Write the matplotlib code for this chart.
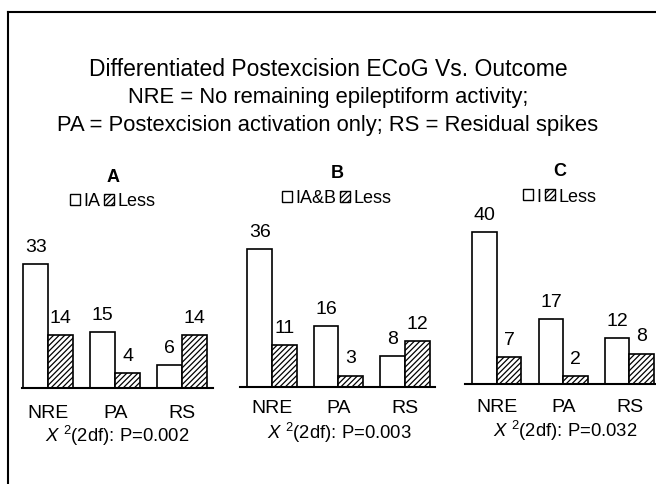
import numpy as np
import matplotlib.pyplot as plt
from matplotlib.patches import Patch
from matplotlib.lines import Line2D

plt.rcParams['font.family'] = ['Liberation Sans', 'DejaVu Sans']
plt.rcParams['mathtext.fontset'] = 'custom'
plt.rcParams['mathtext.rm'] = 'Liberation Sans'
plt.rcParams['mathtext.it'] = 'Liberation Sans:italic'
plt.rcParams['hatch.linewidth'] = 0.9

categories = ['NRE', 'PA', 'RS']
panels = ['A', 'B', 'C']
first_labels = ['IA', 'IA&B', 'I']
first_values = [[33, 15, 6], [36, 16, 8], [40, 17, 12]]
less_values = [[14, 4, 14], [11, 3, 12], [7, 2, 8]]
p_values = ['0.002', '0.003', '0.032']

W, H = 656, 485
fig = plt.figure(figsize=(W / 100, H / 100), dpi=100)


def fx(x):
    return x / W


def fy(y):
    return 1 - y / H


# panel geometry in pixels: axes left, right, baseline, px per unit, xlim
geom = [
    dict(left=22, right=213, base=389, scale=3.76, xlim=(-0.39, 2.46),
         title_y=177, leg_y=202, cat_y=414, chi_y=436, cx=113, chi_x=117),
    dict(left=240, right=435, base=388, scale=3.83, xlim=(-0.48, 2.45),
         title_y=173, leg_y=199, cat_y=409, chi_y=433, cx=337, chi_x=339),
    dict(left=465, right=656, base=385, scale=3.80, xlim=(-0.48, 2.4),
         title_y=171, leg_y=197, cat_y=408, chi_y=431, cx=560, chi_x=565),
]

ymax = 42
bw = 0.37
x = np.arange(len(categories))

for i, g in enumerate(geom):
    h_px = ymax * g['scale']
    ax = fig.add_axes([fx(g['left']), fy(g['base']), fx(g['right'] - g['left']), h_px / H])
    ax.bar(x - bw, first_values[i], bw, align='edge', color='white', edgecolor='black', linewidth=1.2)
    ax.bar(x, less_values[i], bw, align='edge', color='white', edgecolor='black', linewidth=1.2, hatch='//////')
    for xi, v in zip(x, first_values[i]):
        ax.text(xi - bw / 2, v + 2.4, str(v), ha='center', va='bottom', fontsize=14)
    for xi, v in zip(x, less_values[i]):
        ax.text(xi + bw / 2, v + 2.4, str(v), ha='center', va='bottom', fontsize=14)
    ax.set_xlim(*g['xlim'])
    ax.set_ylim(0, ymax)
    for s in ['top', 'left', 'right']:
        ax.spines[s].set_visible(False)
    ax.spines['bottom'].set_linewidth(1.5)
    ax.set_xticks([])
    ax.set_yticks([])
    ax.patch.set_alpha(0)

    for xi, c in zip(x, categories):
        px = g['left'] + (xi - g['xlim'][0]) / (g['xlim'][1] - g['xlim'][0]) * (g['right'] - g['left'])
        fig.text(fx(px), fy(g['cat_y']), c, ha='center', va='center', fontsize=14)

    fig.text(fx(g['cx']), fy(g['title_y']), panels[i], ha='center', va='center',
             fontsize=13, fontweight='bold')
    handles = [Patch(facecolor='white', edgecolor='black', linewidth=1.0),
               Patch(facecolor='white', edgecolor='black', linewidth=1.0, hatch='//////')]
    fig.legend(handles, [first_labels[i], 'Less'], loc='center',
               bbox_to_anchor=(fx(g['cx']), fy(g['leg_y'])), ncol=2, frameon=False,
               fontsize=13, handlelength=0.55, handleheight=0.55, handletextpad=0.2,
               columnspacing=0.2, borderpad=0)
    fig.text(fx(g['chi_x']), fy(g['chi_y']), r'$X$ $^{2}$(2df): P=' + p_values[i],
             ha='center', va='center', fontsize=13.3)

fig.text(0.5, fy(70), 'Differentiated Postexcision ECoG Vs. Outcome',
         ha='center', va='center', fontsize=16.5)
fig.text(0.5, fy(98), 'NRE = No remaining epileptiform activity;',
         ha='center', va='center', fontsize=15.8)
fig.text(0.5, fy(125), 'PA = Postexcision activation only; RS = Residual spikes',
         ha='center', va='center', fontsize=15.8)

# border of the slide
fig.add_artist(Line2D([fx(8), 1], [fy(13), fy(13)], color='black', linewidth=1.5))
fig.add_artist(Line2D([fx(8), fx(8)], [fy(13), 0], color='black', linewidth=1.5))

fig.savefig('out.png', dpi=100)
